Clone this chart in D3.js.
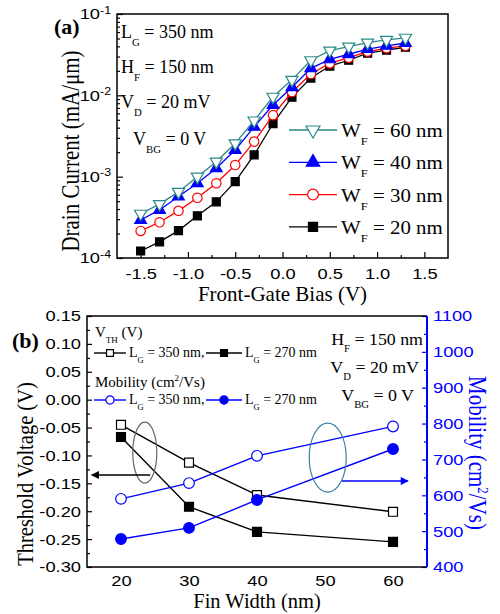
<!DOCTYPE html>
<html>
<head>
<meta charset="utf-8">
<script src="https://cdn.jsdelivr.net/npm/d3@7"></script>
<style>
  body { margin: 0; background: #fff; }
  svg { display: block; }
</style>
</head>
<body>
<svg id="chart" width="500" height="614"></svg>
<script>
// ---- panel (a): drain current vs front-gate bias ----
var biasV = [-1.5, -1.3, -1.1, -0.9, -0.7, -0.5, -0.3, -0.1, 0.1, 0.3, 0.5, 0.7, 0.9, 1.1, 1.3];
var idW60 = [3.5e-4, 4.6e-4, 6.5e-4, 1.0e-3, 1.53e-3, 2.57e-3, 4.9e-3, 9.6e-3, 1.55e-2, 2.7e-2, 3.55e-2, 3.98e-2, 4.45e-2, 4.8e-2, 5.1e-2];
var idW40 = [2.93e-4, 3.9e-4, 5.7e-4, 8.3e-4, 1.27e-3, 2.13e-3, 4.1e-3, 7.6e-3, 1.26e-2, 2.15e-2, 2.77e-2, 3.2e-2, 3.7e-2, 4.06e-2, 4.4e-2];
var idW30 = [2.15e-4, 2.75e-4, 3.8e-4, 5.5e-4, 8.3e-4, 1.39e-3, 2.7e-3, 5.7e-3, 1.1e-2, 1.83e-2, 2.47e-2, 2.9e-2, 3.45e-2, 3.8e-2, 4.06e-2];
var idW20 = [1.22e-4, 1.58e-4, 2.17e-4, 3.3e-4, 4.9e-4, 8.7e-4, 1.85e-3, 4.5e-3, 9.5e-3, 1.63e-2, 2.29e-2, 2.7e-2, 3.3e-2, 3.6e-2, 3.9e-2];
var biasTicks = [-1.5, -1.0, -0.5, 0.0, 0.5, 1.0, 1.5];
var currentTicks = [1e-4, 1e-3, 1e-2, 1e-1];

// ---- panel (b): threshold voltage and mobility vs fin width ----
var finWidth = [20, 30, 40, 60];
var vth350 = [-0.045, -0.113, -0.171, -0.201];
var vth270 = [-0.067, -0.192, -0.237, -0.255];
var mob350 = [590, 634, 710, 792];
var mob270 = [478, 509, 587, 729];
var finTicks = [20, 30, 40, 50, 60];
var vthTicks = [-0.30, -0.25, -0.20, -0.15, -0.10, -0.05, 0.00, 0.05, 0.10, 0.15];
var mobTicks = [400, 500, 600, 700, 800, 900, 1000, 1100];

var SERIF = "'Liberation Serif','Times New Roman',serif";
var SANS = "'Liberation Sans',Arial,sans-serif";
var BLUE = '#0000ff';

var svg = d3.select('#chart');
svg.append('rect').attr('width', 500).attr('height', 614).attr('fill', '#fff');

var defs = svg.append('defs');
[['arrowBlack', '#000'], ['arrowBlue', BLUE]].forEach(function(m){
	defs.append('marker')
		.attr('id', m[0])
		.attr('viewBox', '0 0 10 10')
		.attr('refX', 9).attr('refY', 5)
		.attr('markerWidth', 10).attr('markerHeight', 8)
		.attr('markerUnits', 'userSpaceOnUse')
		.attr('orient', 'auto')
		.append('path').attr('d', 'M0,0L10,5L0,10z').attr('fill', m[1]);
});

// text with sub/superscripts; parts are strings or {t, sub|sup}
function richText(parent, x, y, parts, size, anchor) {
	var t = parent.append('text')
		.attr('x', x).attr('y', y)
		.attr('font-family', SERIF)
		.attr('font-size', size)
		.attr('text-anchor', anchor || 'start');
	var cur = 0;
	parts.forEach(function(p){
		var part = typeof p === 'string' ? { t: p } : p;
		var shift = part.sub === true ? size * 0.42 : part.sup === true ? -size * 0.4 : 0;
		var s = t.append('tspan').text(part.t).attr('dy', shift - cur);
		if (shift !== 0) s.attr('font-size', size * 0.6);
		cur = shift;
	});
	return t;
}

function symbolPath(shape, size) {
	if (shape === 'square') return d3.symbol(d3.symbolSquare, size)();
	if (shape === 'circle') return d3.symbol(d3.symbolCircle, size)();
	return d3.symbol(d3.symbolTriangle, size)();
}

function drawMarker(g, shape, x, y, size, color, fill) {
	g.append('path')
		.attr('d', symbolPath(shape, size))
		.attr('transform', 'translate(' + x + ',' + y + ')' + (shape === 'triDown' ? ' rotate(180)' : ''))
		.attr('fill', fill)
		.attr('stroke', color)
		.attr('stroke-width', 1.2);
}

function styleAxis(g, color) {
	g.select('.domain').remove();
	g.attr('font-family', SANS).attr('font-size', 15.5);
	g.selectAll('line').attr('stroke', color || '#000').attr('stroke-width', 1.2);
	g.selectAll('text').attr('fill', color || '#000').classed('tick-label', true);
}

// ================= panel (a) =================
var xA = d3.scaleLinear().domain([-1.75, 1.75]).range([117, 448]);
var yA = d3.scaleLog().domain([1e-4, 1e-1]).range([258, 14]);
var gA = svg.append('g');

var minorBias = biasTicks.slice(0, -1).map(function(d){ return d + 0.25; });
var minorCurrent = [];
currentTicks.slice(0, -1).forEach(function(d){
	for (var k = 2; k < 10; k++) minorCurrent.push(d * k);
});

gA.append('g').attr('transform', 'translate(0,' + yA.range()[0] + ')')
	.call(d3.axisBottom(xA).tickValues(minorBias).tickSize(-3).tickFormat(''))
	.call(styleAxis);
gA.append('g').attr('transform', 'translate(0,' + yA.range()[0] + ')')
	.call(d3.axisBottom(xA).tickValues(biasTicks).tickSize(-6).tickPadding(10)
		.tickFormat(function(d){ return d.toFixed(1); }))
	.call(styleAxis);
gA.append('g').attr('transform', 'translate(' + xA.range()[0] + ',0)')
	.call(d3.axisLeft(yA).tickValues(minorCurrent).tickSize(-3).tickFormat(''))
	.call(styleAxis);
var yAxisA = gA.append('g').attr('transform', 'translate(' + xA.range()[0] + ',0)')
	.call(d3.axisLeft(yA).tickValues(currentTicks).tickSize(-6).tickPadding(6).tickFormat(''))
	.call(styleAxis);
yAxisA.selectAll('.tick text').each(function(d){
	var t = d3.select(this);
	t.append('tspan').text('10');
	t.append('tspan').attr('dy', '-0.55em').attr('font-size', 10.5).text(String(Math.round(Math.log10(d))));
});

gA.append('rect')
	.attr('x', xA.range()[0]).attr('y', yA.range()[1])
	.attr('width', xA.range()[1] - xA.range()[0])
	.attr('height', yA.range()[0] - yA.range()[1])
	.attr('fill', 'none').attr('stroke', '#000').attr('stroke-width', 1.5);

var seriesA = [
	{ label: '20 nm', values: idW20, color: '#000', shape: 'square', fill: '#000', size: 64 },
	{ label: '30 nm', values: idW30, color: '#ff0000', shape: 'circle', fill: '#fff', size: 70 },
	{ label: '40 nm', values: idW40, color: BLUE, shape: 'triUp', fill: BLUE, size: 60 },
	{ label: '60 nm', values: idW60, color: '#2a8a88', shape: 'triDown', fill: '#fff', size: 64 }
];

var lineA = d3.line()
	.x(function(d){ return xA(d[0]); })
	.y(function(d){ return yA(d[1]); });

seriesA.forEach(function(s){
	var pts = biasV.map(function(v, i){ return [v, s.values[i]]; });
	var g = gA.append('g');
	g.append('path').attr('d', lineA(pts))
		.attr('fill', 'none').attr('stroke', s.color).attr('stroke-width', 1.3);
	pts.forEach(function(p){
		drawMarker(g, s.shape, xA(p[0]), yA(p[1]), s.size, s.color, s.fill);
	});
});

// legend (a)
seriesA.slice().reverse().forEach(function(s, i){
	var cy = 130 + i * 32.3;
	var g = gA.append('g');
	g.append('line').attr('x1', 289).attr('x2', 337).attr('y1', cy).attr('y2', cy)
		.attr('stroke', s.color).attr('stroke-width', 1.3);
	drawMarker(g, s.shape, 313, cy, s.size * 1.3, s.color, s.fill);
	richText(g, 341, cy + 7, ['W', { t: 'F', sub: true }, ' = ' + s.label], 19).classed('ann-legend', true);
});

// conditions (a)
richText(gA, 121, 38, ['L', { t: 'G', sub: true }, ' = 350 nm'], 18);
richText(gA, 121, 73, ['H', { t: 'F', sub: true }, ' = 150 nm'], 18);
richText(gA, 121, 108, ['V', { t: 'D', sub: true }, ' = 20 mV'], 18);
richText(gA, 133, 145, ['V', { t: 'BG', sub: true }, ' = 0 V'], 18);

gA.append('text').attr('x', 54).attr('y', 34)
	.attr('font-family', SERIF).attr('font-size', 22).attr('font-weight', 'bold')
	.text('(a)');

gA.append('text')
	.attr('x', d3.mean(xA.range())).attr('y', 301)
	.attr('text-anchor', 'middle')
	.attr('font-family', SERIF).attr('font-size', 21)
	.text('Front-Gate Bias (V)');
gA.append('text')
	.attr('class', 'rot')
	.attr('transform', 'translate(79,151) rotate(-90) scale(1,1.15)')
	.attr('text-anchor', 'middle')
	.attr('font-family', SERIF).attr('font-size', 21)
	.text('Drain Current (mA/\u03bcm)');

// ================= panel (b) =================
var xB = d3.scaleLinear().domain([15, 65]).range([87, 427]);
var yB = d3.scaleLinear().domain([-0.30, 0.15]).range([567, 316]);
var yM = d3.scaleLinear().domain([400, 1100]).range([567, 316]);
var gB = svg.append('g');

var minorVth = vthTicks.slice(0, -1).map(function(d){ return d + 0.025; });
var minorMob = mobTicks.slice(0, -1).map(function(d){ return d + 50; });

gB.append('g').attr('transform', 'translate(0,' + yB.range()[0] + ')')
	.call(d3.axisBottom(xB).tickValues(finTicks).tickSize(0).tickPadding(8))
	.call(styleAxis);
gB.append('g').attr('transform', 'translate(' + xB.range()[0] + ',0)')
	.call(d3.axisLeft(yB).tickValues(minorVth).tickSize(-3).tickFormat(''))
	.call(styleAxis);
gB.append('g').attr('transform', 'translate(' + xB.range()[0] + ',0)')
	.call(d3.axisLeft(yB).tickValues(vthTicks).tickSize(-5).tickPadding(6)
		.tickFormat(function(d){ return d.toFixed(2); }))
	.call(styleAxis);
gB.append('g').attr('transform', 'translate(' + xB.range()[1] + ',0)')
	.call(d3.axisRight(yM).tickValues(minorMob).tickSize(-3).tickFormat(''))
	.call(styleAxis, BLUE);
gB.append('g').attr('transform', 'translate(' + xB.range()[1] + ',0)')
	.call(d3.axisRight(yM).tickValues(mobTicks).tickSize(-5).tickPadding(6).tickFormat(d3.format('d')))
	.call(styleAxis, BLUE);

var bx0 = xB.range()[0], bx1 = xB.range()[1], by0 = yB.range()[1], by1 = yB.range()[0];
gB.append('path').attr('d', 'M' + bx1 + ',' + by0 + 'H' + bx0 + 'V' + by1 + 'H' + bx1)
	.attr('fill', 'none').attr('stroke', '#000').attr('stroke-width', 1.5);
gB.append('line').attr('x1', bx1).attr('x2', bx1).attr('y1', by0).attr('y2', by1)
	.attr('stroke', BLUE).attr('stroke-width', 2);

var seriesB = [
	{ values: vth350, scale: yB, color: '#000', shape: 'square', fill: '#fff', size: 80 },
	{ values: vth270, scale: yB, color: '#000', shape: 'square', fill: '#000', size: 80 },
	{ values: mob350, scale: yM, color: BLUE, shape: 'circle', fill: '#fff', size: 90 },
	{ values: mob270, scale: yM, color: BLUE, shape: 'circle', fill: BLUE, size: 90 }
];

seriesB.forEach(function(s){
	var line = d3.line()
		.x(function(d, i){ return xB(finWidth[i]); })
		.y(function(d){ return s.scale(d); });
	var g = gB.append('g');
	g.append('path').attr('d', line(s.values))
		.attr('fill', 'none').attr('stroke', s.color).attr('stroke-width', 1.4);
	s.values.forEach(function(v, i){
		drawMarker(g, s.shape, xB(finWidth[i]), s.scale(v), s.size, s.color, s.fill);
	});
});

// ellipses and arrows
gB.append('ellipse')
	.attr('cx', xB(23.5)).attr('cy', yB(-0.095)).attr('rx', 12).attr('ry', 30.5)
	.attr('fill', 'none').attr('stroke', '#666').attr('stroke-width', 1.2);
gB.append('line')
	.attr('x1', xB(24.3)).attr('x2', xB(15.7)).attr('y1', yB(-0.135)).attr('y2', yB(-0.135))
	.attr('stroke', '#000').attr('stroke-width', 1.4).attr('marker-end', 'url(#arrowBlack)');
gB.append('ellipse')
	.attr('cx', xB(50.4)).attr('cy', yM(705)).attr('rx', 18.5).attr('ry', 34.5)
	.attr('fill', 'none').attr('stroke', '#3c7fa6').attr('stroke-width', 1.2);
gB.append('line')
	.attr('x1', xB(52.5)).attr('x2', xB(62.2)).attr('y1', yM(640)).attr('y2', yM(640))
	.attr('stroke', BLUE).attr('stroke-width', 1.4).attr('marker-end', 'url(#arrowBlue)');

// legend (b)
richText(gB, 95, 337, ['V', { t: 'TH', sub: true }, ' (V)'], 15);
richText(gB, 95, 387, ['Mobility (cm', { t: '2', sup: true }, '/Vs)'], 15);
var legendB = [
	{ s: seriesB[0], x: 94, len: 32, cy: 353, label: '350 nm,' },
	{ s: seriesB[1], x: 206, len: 36, cy: 353, label: '270 nm' },
	{ s: seriesB[2], x: 94, len: 32, cy: 400, label: '350 nm,' },
	{ s: seriesB[3], x: 206, len: 36, cy: 400, label: '270 nm' }
];
legendB.forEach(function(e){
	var g = gB.append('g');
	g.append('line').attr('x1', e.x).attr('x2', e.x + e.len).attr('y1', e.cy).attr('y2', e.cy)
		.attr('stroke', e.s.color).attr('stroke-width', 1.4);
	drawMarker(g, e.s.shape, e.x + e.len / 2, e.cy, e.s.size * 0.6, e.s.color, e.s.fill);
	richText(g, e.x + e.len + 3, e.cy + 4, ['L', { t: 'G', sub: true }, ' = ' + e.label], 14);
});

richText(gB, 423, 345, ['H', { t: 'F', sub: true }, ' = 150 nm'], 17, 'end').classed('ann', true);
richText(gB, 419, 373, ['V', { t: 'D', sub: true }, ' = 20 mV'], 17, 'end').classed('ann', true);
richText(gB, 414, 401, ['V', { t: 'BG', sub: true }, ' = 0 V'], 17, 'end').classed('ann', true);

gB.append('text').attr('x', 12).attr('y', 348)
	.attr('font-family', SERIF).attr('font-size', 22).attr('font-weight', 'bold')
	.text('(b)');

gB.append('text')
	.attr('x', d3.mean(xB.range())).attr('y', 608)
	.attr('text-anchor', 'middle')
	.attr('font-family', SERIF).attr('font-size', 20.5)
	.text('Fin Width (nm)');
gB.append('text')
	.attr('class', 'rot')
	.attr('transform', 'translate(33,474) rotate(-90) scale(1,1.15)')
	.attr('text-anchor', 'middle')
	.attr('font-family', SERIF).attr('font-size', 20.5)
	.text('Threshold Voltage (V)');
var mobTitle = gB.append('text')
	.attr('class', 'rot')
	.attr('transform', 'translate(469,453) rotate(90) scale(1,1.15)')
	.attr('text-anchor', 'middle')
	.attr('font-family', SERIF).attr('font-size', 21)
	.attr('fill', BLUE);
mobTitle.append('tspan').text('Mobility (cm');
mobTitle.append('tspan').attr('dy', -8).attr('font-size', 13).text('2');
mobTitle.append('tspan').attr('dy', 8).text('/Vs)');

// the reference glyphs are a little wider than the installed fonts
function stretch(sel, k) {
	sel.each(function(){
		var el = d3.select(this);
		var x = +el.attr('x') || 0;
		el.attr('transform', 'translate(' + (x * (1 - k)) + ',0) scale(' + k + ',1)');
	});
}
stretch(svg.selectAll('text.tick-label'), 1.18);
stretch(svg.selectAll('text.ann-legend'), 1.1);
stretch(svg.selectAll('text.ann'), 1.05);
</script>
</body>
</html>
